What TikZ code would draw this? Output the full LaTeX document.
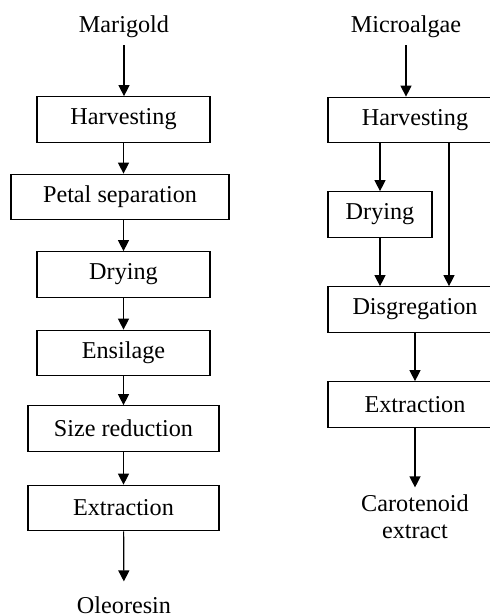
\documentclass[tikz,border=0pt]{standalone}
\usepackage{fontspec}
\setmainfont{Liberation Serif}
\usetikzlibrary{arrows.meta}

\begin{document}
\begin{tikzpicture}[x=0.5pt,y=-0.5pt]
\tikzset{
    node style box/.style={draw,rectangle,line width=0.6pt,minimum height=22.75pt,inner sep=0pt,font=\fontsize{12.1}{13.5}\selectfont},
    node style txt/.style={font=\fontsize{12.1}{13.5}\selectfont,align=center},
    arrow style flow/.style={line width=0.6pt,-{Triangle[length=5.5pt,width=5.5pt]}}
}
\useasboundingbox (0,0) rectangle (489,614);
% marigold
\node[node style txt] (mari) at (124,27) {Marigold};
\node[node style box,minimum width=86.5pt] (harvL) at (123.5,119.5) {Harvesting};
\node[node style box,minimum width=109pt] (petal) at (120,197) {Petal separation};
\node[node style box,minimum width=86.5pt] (dryL) at (123.5,274.5) {Drying};
\node[node style box,minimum width=86.5pt] (ensil) at (123.5,353) {Ensilage};
\node[node style box,minimum width=95.5pt] (size) at (123.5,428.5) {Size reduction};
\node[node style box,minimum width=95.5pt] (extL) at (123.5,508) {Extraction};
\node[node style txt] (oleo) at (124,605) {Oleoresin};
% microalgae
\node[node style txt] (micro) at (406,27) {Microalgae};
\node[node style box,minimum width=87pt] (harvR) at (415,120) {Harvesting};
\node[node style box,minimum width=52pt] (dryR) at (380,214.5) {Drying};
\node[node style box,minimum width=87pt] (disR) at (415,309.5) {Disgregation};
\node[node style box,minimum width=87pt] (extR) at (415,404.5) {Extraction};
\node[node style txt] (carot) at (415,516.5) {Carotenoid\\extract};

\path[arrow style flow]
    (mari) edge (mari |- harvL.north)
    (harvL) edge (harvL.south |- petal.north)
    (petal.south -| harvL.south) edge (dryL)
    (dryL) edge (ensil)
    (ensil) edge (size)
    (size) edge (extL)
    (extL) edge[shorten >=4pt] (oleo)
    % right side
    (micro) edge (micro |- harvR.north)
    (dryR.north |- harvR.south) edge (dryR)
    ([xshift=17pt]harvR.south) edge ([xshift=17pt]disR.north)
    (dryR) edge (dryR.south |- disR.north)
    (disR) edge (extR)
    (extR) edge (carot);
\end{tikzpicture}
\end{document}
